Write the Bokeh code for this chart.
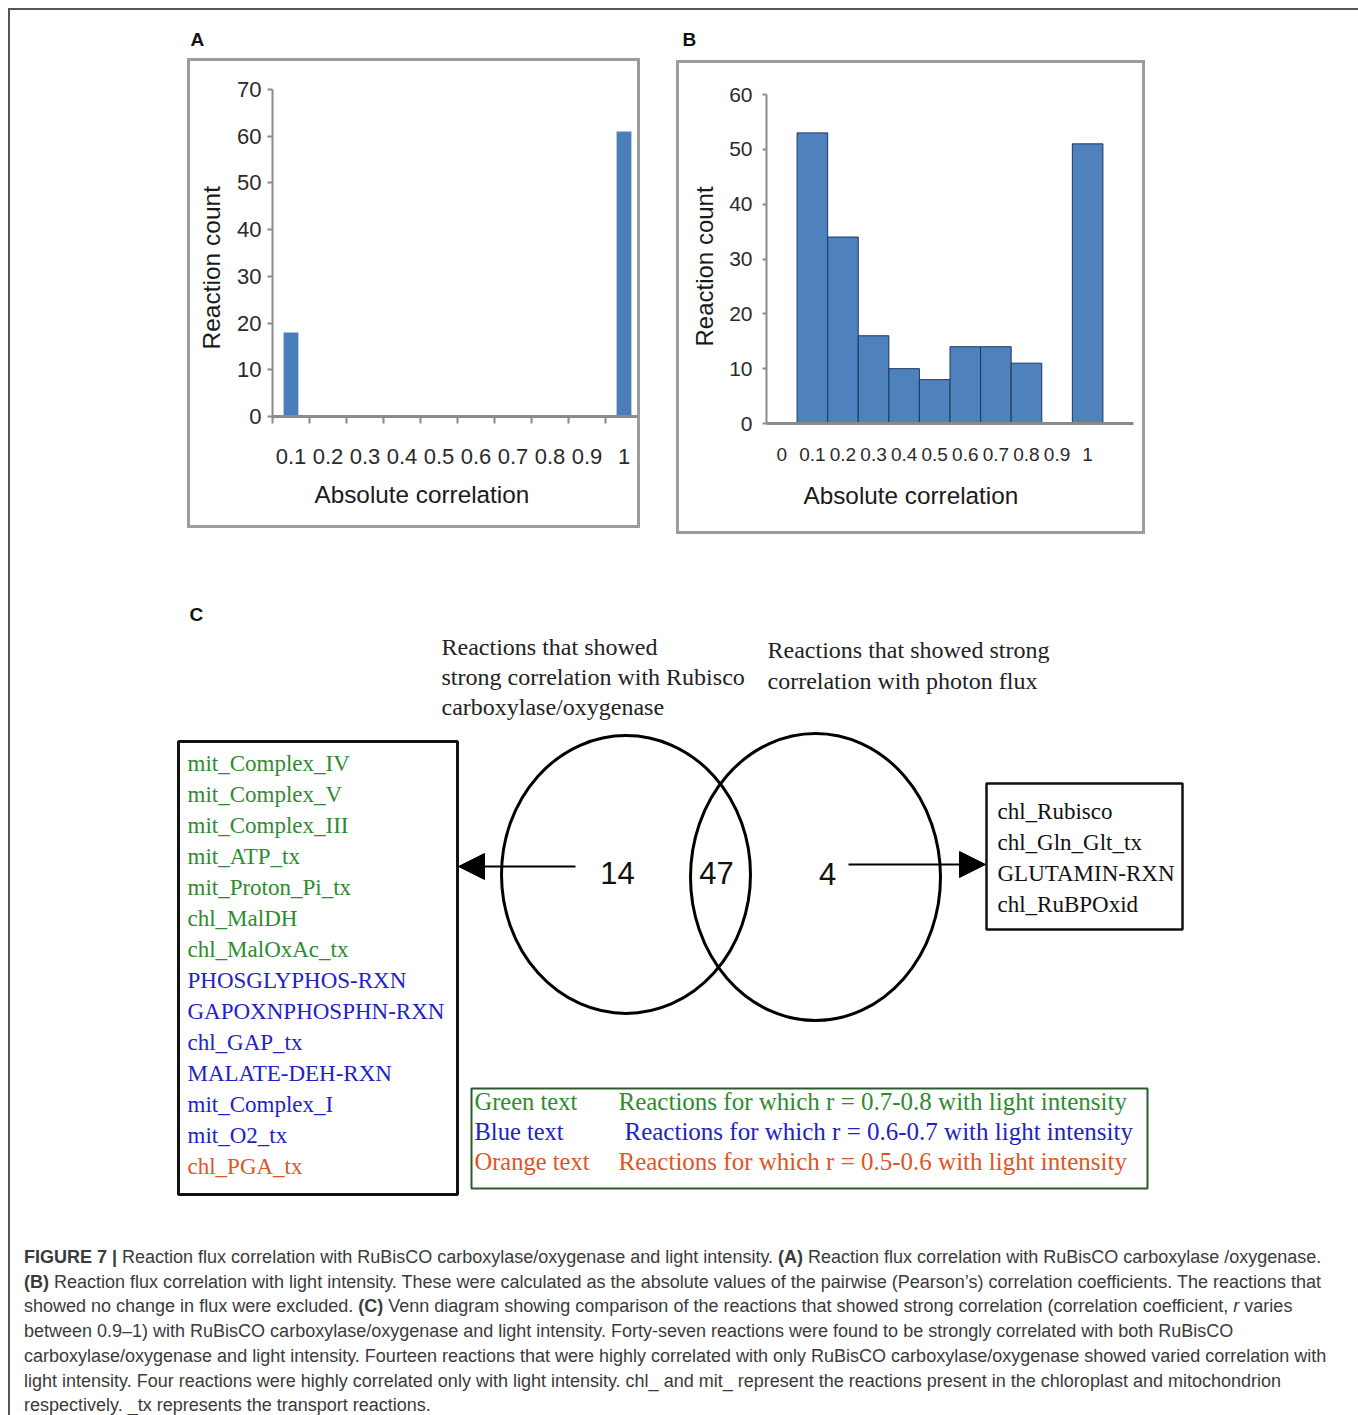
from bokeh.plotting import figure
from bokeh.models import Range1d, FixedTicker, ColumnDataSource, Div, Spacer, Arrow, NormalHead, Title
from bokeh.layouts import column, row
from bokeh.core.properties import value
from bokeh.embed import file_html
from bokeh.resources import INLINE

# ---------------- data ----------------
a_bins = ["0.1", "0.2", "0.3", "0.4", "0.5", "0.6", "0.7", "0.8", "0.9", "1"]
a_counts = [18, 0, 0, 0, 0, 0, 0, 0, 0, 61]
a_yticks = [0, 10, 20, 30, 40, 50, 60, 70]

b_bins = ["0", "0.1", "0.2", "0.3", "0.4", "0.5", "0.6", "0.7", "0.8", "0.9", "1"]
b_counts = [0, 53, 34, 16, 10, 8, 14, 14, 11, 0, 51]
b_yticks = [0, 10, 20, 30, 40, 50, 60]

x_title = "Absolute correlation"
y_title = "Reaction count"

venn_counts = [14, 47, 4]
header_left = ["Reactions that showed", "strong correlation with Rubisco", "carboxylase/oxygenase"]
header_right = ["Reactions that showed strong", "correlation with photon flux"]

left_items = ["mit_Complex_IV", "mit_Complex_V", "mit_Complex_III", "mit_ATP_tx",
              "mit_Proton_Pi_tx", "chl_MalDH", "chl_MalOxAc_tx", "PHOSGLYPHOS-RXN",
              "GAPOXNPHOSPHN-RXN", "chl_GAP_tx", "MALATE-DEH-RXN", "mit_Complex_I",
              "mit_O2_tx", "chl_PGA_tx"]
left_groups = ["green"] * 7 + ["blue"] * 6 + ["orange"]
right_items = ["chl_Rubisco", "chl_Gln_Glt_tx", "GLUTAMIN-RXN", "chl_RuBPOxid"]

legend_groups = ["green", "blue", "orange"]
legend_names = ["Green text", "Blue text", "Orange text"]
legend_desc = ["Reactions for which r = 0.7-0.8 with light intensity",
               "Reactions for which r = 0.6-0.7 with light intensity",
               "Reactions for which r = 0.5-0.6 with light intensity"]

caption_lines = [
    "<b>FIGURE 7 |</b> Reaction flux correlation with RuBisCO carboxylase/oxygenase and light intensity. <b>(A)</b> Reaction flux correlation with RuBisCO carboxylase /oxygenase.",
    "<b>(B)</b> Reaction flux correlation with light intensity. These were calculated as the absolute values of the pairwise (Pearson\u2019s) correlation coefficients. The reactions that",
    "showed no change in flux were excluded. <b>(C)</b> Venn diagram showing comparison of the reactions that showed strong correlation (correlation coefficient, <i>r</i> varies",
    "between 0.9\u20131) with RuBisCO carboxylase/oxygenase and light intensity. Forty-seven reactions were found to be strongly correlated with both RuBisCO",
    "carboxylase/oxygenase and light intensity. Fourteen reactions that were highly correlated with only RuBisCO carboxylase/oxygenase showed varied correlation with",
    "light intensity. Four reactions were highly correlated only with light intensity. chl_ and mit_ represent the reactions present in the chloroplast and mitochondrion",
    "respectively. _tx represents the transport reactions.",
]

# ---------------- styles ----------------
GROUP_COLORS = {"green": "#2f8a2f", "blue": "#2222c4", "orange": "#e0541f"}
SANS = "Liberation Sans"
SERIF = "Liberation Serif"
AXIS_GRAY = "#8a8a8a"
PANEL_BORDER = "3px solid #9c9c9c"


def style_axes(p, xtick_size, ytick_size):
    p.xgrid.visible = False
    p.ygrid.visible = False
    p.outline_line_color = None
    for ax, size in ((p.xaxis[0], xtick_size), (p.yaxis[0], ytick_size)):
        ax.axis_line_color = AXIS_GRAY
        ax.major_tick_line_color = AXIS_GRAY
        ax.major_tick_line_width = 2
        ax.minor_tick_line_color = None
        ax.major_tick_in = 0
        ax.major_label_text_font = SANS
        ax.major_label_text_font_size = size
        ax.major_label_text_color = "#2a2a2a"


def add_titles(p, x_offset, x_standoff, y_offset, y_standoff, y_size, y_valign):
    p.add_layout(Title(text=x_title, align="left", offset=x_offset, standoff=x_standoff, text_font=SANS,
                       text_font_size="24.3px", text_font_style="normal", text_color="#1a1a1a",
                       vertical_align="top"), "below")
    p.add_layout(Title(text=y_title, align="left", offset=y_offset, standoff=y_standoff, text_font=SANS,
                       text_font_size=y_size, text_font_style="normal", text_color="#1a1a1a",
                       vertical_align=y_valign), "left")


# ---------------- panel A ----------------
pa = figure(width=453, height=470, x_range=Range1d(-0.5, 9.5), y_range=Range1d(0, 70),
            output_backend="svg", toolbar_location=None,
            min_border_left=82, min_border_right=1, min_border_top=28, min_border_bottom=115,
            styles={"border": PANEL_BORDER})
pa.vbar(x=list(range(len(a_bins))), top=a_counts, width=0.4, fill_color="#4a7ebb", line_color=None)
style_axes(pa, "22px", "22px")
xa = pa.xaxis[0]
xa.ticker = FixedTicker(ticks=list(range(len(a_bins))), minor_ticks=[i - 0.5 for i in range(len(a_bins) + 1)])
xa.major_label_overrides = {i: lab for i, lab in enumerate(a_bins)}
xa.major_tick_line_color = None
xa.major_tick_out = 0
xa.minor_tick_line_color = AXIS_GRAY
xa.minor_tick_line_width = 2
xa.minor_tick_in = 0
xa.minor_tick_out = 7
xa.axis_line_width = 3
xa.major_label_standoff = 25
ya = pa.yaxis[0]
ya.ticker = FixedTicker(ticks=a_yticks, minor_ticks=[])
ya.major_tick_out = 5
ya.axis_line_width = 2
ya.major_label_standoff = 6
add_titles(pa, 42, 29, 67, 15, "24.5px", "top")

# ---------------- panel B ----------------
pb = figure(width=469, height=474, x_range=Range1d(-0.5, 11.5), y_range=Range1d(0, 60),
            output_backend="svg", toolbar_location=None,
            min_border_left=87, min_border_right=15, min_border_top=31, min_border_bottom=114,
            styles={"border": PANEL_BORDER})
pb.vbar(x=list(range(len(b_bins))), top=b_counts, width=1.0, fill_color="#4f81bd",
        line_color="#1f3560", line_width=1)
style_axes(pb, "19px", "21px")
xb = pb.xaxis[0]
xb.ticker = FixedTicker(ticks=list(range(len(b_bins))), minor_ticks=[])
xb.major_label_overrides = {i: lab for i, lab in enumerate(b_bins)}
xb.major_tick_line_color = None
xb.major_tick_out = 0
xb.axis_line_width = 3
xb.major_label_standoff = 24
yb = pb.yaxis[0]
yb.ticker = FixedTicker(ticks=b_yticks, minor_ticks=[])
yb.major_tick_out = 4
yb.axis_line_width = 2
yb.major_label_standoff = 10
add_titles(pb, 37, 37, 77, 17, "24px", "bottom")

# ---------------- strip with panel letters ----------------
strip = figure(width=1344, height=48, x_range=Range1d(10, 1354), y_range=Range1d(58, 10),
               x_axis_type=None, y_axis_type=None, output_backend="svg", toolbar_location=None,
               min_border=0, outline_line_color=None)
strip.grid.visible = False
strip.text(x=[190, 682], y=[38.5, 38.5], text=["A", "B"], text_font=value(SANS), text_font_style="bold",
           text_font_size="19px", text_color="#111111", text_baseline="middle")

top_row = row(Spacer(width=177, height=476), pa, Spacer(width=36, height=476),
              column(Spacer(width=469, height=2), pb), Spacer(width=209, height=476))

# ---------------- panel C (Venn) ----------------
C_TOP, C_BOT = 534, 1240
pc = figure(width=1344, height=C_BOT - C_TOP, x_range=Range1d(10, 1354), y_range=Range1d(C_BOT, C_TOP),
            x_axis_type=None, y_axis_type=None, output_backend="svg", toolbar_location=None,
            min_border=0, outline_line_color=None)
pc.grid.visible = False

pc.text(x=[189], y=[613.5], text=["C"], text_font=value(SANS), text_font_style="bold",
        text_font_size="19px", text_color="#111111", text_baseline="middle")

# headers
pc.text(x=[441] * len(header_left), y=[646 + 30 * i for i in range(len(header_left))], text=header_left,
        text_font=value(SERIF), text_font_size="24px", text_color="#222222", text_baseline="middle")
pc.text(x=[767] * len(header_right), y=[649 + 31 * i for i in range(len(header_right))], text=header_right,
        text_font=value(SERIF), text_font_size="24px", text_color="#222222", text_baseline="middle")

# Venn ellipses
pc.ellipse(x=[625.5, 815], y=[874, 876.5], width=[249, 250], height=[278, 287],
           fill_color=None, line_color="black", line_width=3)
pc.text(x=[617, 716, 827], y=[872, 872, 873], text=[str(v) for v in venn_counts],
        text_font=value(SANS), text_font_size="31px", text_color="#111111",
        text_align="center", text_baseline="middle")

# left box
pc.quad(left=[178], right=[457], top=[741], bottom=[1194], fill_color=None, line_color="#111111", line_width=3)
left_src = ColumnDataSource(dict(
    x=[187] * len(left_items), y=[762.5 + 31.0 * i for i in range(len(left_items))],
    text=left_items, color=[GROUP_COLORS[g] for g in left_groups]))
pc.text(x="x", y="y", text="text", text_color="color", source=left_src, text_font=value(SERIF),
        text_font_size="23px", text_baseline="middle")

# right box
pc.quad(left=[986], right=[1182], top=[783], bottom=[929], fill_color=None, line_color="#111111", line_width=2.5)
pc.text(x=[997] * len(right_items), y=[810.5 + 31.2 * i for i in range(len(right_items))], text=right_items,
        text_font=value(SERIF), text_font_size="23px", text_color="#111111", text_baseline="middle")

# arrows
pc.add_layout(Arrow(x_start=575, y_start=866, x_end=458, y_end=866, line_width=2, line_color="black",
                    end=NormalHead(size=26, fill_color="black", line_color="black")))
pc.add_layout(Arrow(x_start=848, y_start=864, x_end=985, y_end=864, line_width=2, line_color="black",
                    end=NormalHead(size=26, fill_color="black", line_color="black")))

# legend box
pc.quad(left=[471], right=[1147], top=[1088], bottom=[1188], fill_color=None, line_color="#2d5a2d", line_width=2)
leg_src = ColumnDataSource(dict(
    x1=[474] * 3, x2=[618, 624, 618], y=[1100.5 + 30.2 * i for i in range(3)],
    name=legend_names, desc=legend_desc, color=[GROUP_COLORS[g] for g in legend_groups]))
pc.text(x="x1", y="y", text="name", text_color="color", source=leg_src, text_font=value(SERIF),
        text_font_size="24.5px", text_baseline="middle")
pc.text(x="x2", y="y", text="desc", text_color="color", source=leg_src, text_font=value(SERIF),
        text_font_size="25px", text_baseline="middle")

# ---------------- caption ----------------
cap_html = ('<div style="padding-left:9px; font-family:\'Liberation Sans\', Arial, sans-serif; '
            'font-size:18px; line-height:24.7px; color:#3a3a3a; white-space:nowrap;">'
            + "<br>".join(caption_lines) + "</div>")
caption = Div(text=cap_html, width=1344, height=1407 - C_BOT, styles={"overflow": "visible"})

root = column(strip, top_row, pc, caption,
              styles={"border-top": "2px solid #555555", "border-left": "2px solid #555555",
                      "border-right": "2px solid #555555"})

page = column(Spacer(width=1356, height=8), row(Spacer(width=8, height=1399), root))

open("out.html", "w").write(file_html(page, INLINE))
